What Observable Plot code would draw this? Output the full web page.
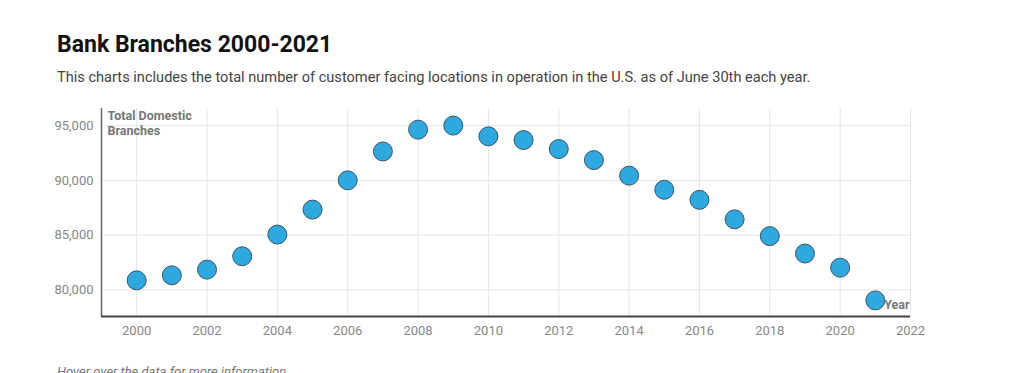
<!DOCTYPE html>
<html>
<head>
<meta charset="utf-8">
<script src="https://cdn.jsdelivr.net/npm/d3@7"></script>
<script src="https://cdn.jsdelivr.net/npm/@observablehq/plot@0.6"></script>
<style>
  html, body { margin: 0; padding: 0; background: #fff; width: 1024px; height: 373px; overflow: hidden; font-family: Roboto, "Noto Sans", sans-serif; }
  #title { position: absolute; left: 57px; top: 31px; font-size: 23px; font-weight: 700; color: #111; line-height: 27px; }
  #subtitle { position: absolute; left: 57px; top: 68px; font-size: 14.6px; color: #444; line-height: 18px; }
  #chart { position: absolute; left: 0; top: 96px; }
  #caption { position: absolute; left: 57px; top: 364px; font-size: 13px; font-style: italic; color: #777; line-height: 16px; }
</style>
</head>
<body>
<div id="title">Bank Branches 2000-2021</div>
<div id="subtitle">This charts includes the total number of customer facing locations in operation in the U.S. as of June 30th each year.</div>
<div id="chart"></div>
<div id="caption">Hover over the data for more information.</div>
<script>
const years = [2000, 2001, 2002, 2003, 2004, 2005, 2006, 2007, 2008, 2009, 2010, 2011, 2012, 2013, 2014, 2015, 2016, 2017, 2018, 2019, 2020, 2021];
const branches = [80870, 81330, 81850, 83070, 85050, 87330, 90000, 92640, 94630, 95000, 94020, 93680, 92860, 91850, 90430, 89140, 88220, 86440, 84910, 83320, 82030, 79040];
const xTicks = [2000, 2002, 2004, 2006, 2008, 2010, 2012, 2014, 2016, 2018, 2020, 2022];
const yTicks = [80000, 85000, 90000, 95000];
const yLabel = ["Total Domestic", "Branches"];
const xLabel = "Year";

const data = years.map((y, i) => ({year: y, value: branches[i]}));
const yDomain = [77570, 96560];
const xDomain = [1999, 2022];

const plot = Plot.plot({
  width: 1024,
  height: 250,
  marginLeft: 101,
  marginRight: 114,
  marginTop: 12,
  marginBottom: 30,
  style: {fontFamily: "Roboto, sans-serif", fontSize: "13px", color: "#888", background: "transparent"},
  x: {domain: xDomain, type: "linear"},
  y: {domain: yDomain},
  marks: [
    Plot.ruleX(xTicks, {stroke: "#e6e6e6", strokeWidth: 1}),
    Plot.ruleY(yTicks, {stroke: "#e6e6e6", strokeWidth: 1}),
    Plot.ruleX([xDomain[0]], {stroke: "#666", strokeWidth: 1.5}),
    Plot.ruleY([yDomain[0]], {stroke: "#444", strokeWidth: 2}),
    Plot.axisX({ticks: xTicks, tickSize: 0, tickPadding: 9, tickFormat: d => String(d), label: null}),
    Plot.axisY({ticks: yTicks, tickSize: 0, tickPadding: 8, tickFormat: d3.format(","), label: null}),
    Plot.text([yLabel.join("\n")], {frameAnchor: "top-left", dx: 6, dy: 1, fill: "#777", fontWeight: "bold", fontSize: 12.5, lineHeight: 1.2, textAnchor: "start"}),
    Plot.dot(data, {x: "year", y: "value", r: 9.5, fill: "#2ea9df", stroke: "#3d5566", strokeWidth: 1, fillOpacity: 1}),
    Plot.text([xLabel], {frameAnchor: "bottom-right", dx: -1, dy: -8, fill: "#777", fontWeight: "bold", fontSize: 12.5, textAnchor: "end"})
  ]
});
document.getElementById("chart").appendChild(plot);
</script>
</body>
</html>
